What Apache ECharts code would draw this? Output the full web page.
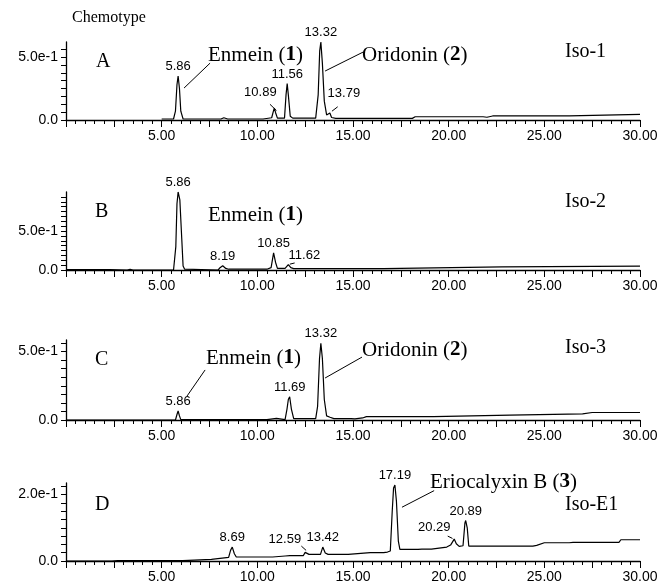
<!DOCTYPE html>
<html>
<head>
<meta charset="utf-8">
<title>Chemotype chromatograms</title>
<script src="https://cdn.jsdelivr.net/npm/echarts@6/dist/echarts.min.js"></script>
<style>
html, body { margin: 0; padding: 0; background: #fff; }
#chart { width: 663px; height: 584px; }
</style>
</head>
<body>
<div id="chart"></div>
<script>
// retention time (min), intensity
var traceA = [[5.0,0.008],[5.62,0.008],[5.72,0.07],[5.8,0.28],[5.86,0.35],[5.93,0.25],[6.0,0.07],[6.12,0.008],
  [8.1,0.008],[8.25,0.018],[8.45,0.008],[10.3,0.008],[10.35,0.018],[10.75,0.018],[10.84,0.07],[10.89,0.095],
  [10.95,0.06],[11.05,0.015],[11.42,0.015],[11.5,0.2],[11.56,0.29],[11.62,0.2],[11.72,0.03],[11.85,0.015],
  [13.05,0.015],[13.18,0.2],[13.26,0.55],[13.32,0.62],[13.4,0.45],[13.5,0.15],[13.62,0.04],[13.7,0.03],
  [13.79,0.055],[13.88,0.02],[14.1,0.013],[16.8,0.013],[16.9,0.02],[17.05,0.013],[18.1,0.013],[18.25,0.026],
  [21.8,0.026],[21.9,0.036],[22.0,0.022],[22.3,0.032],[26.3,0.032],[26.4,0.045],[30,0.045]];
var traceB = [[0,0.004],[2.3,0.004],[2.35,0],[3.2,0],[3.35,0.01],[3.5,0],[5.62,0],[5.68,0.02],[5.74,0.3],
  [5.8,0.85],[5.86,1.0],[5.95,0.9],[6.05,0.4],[6.12,0.05],[6.2,0.01],[6.3,0],[7.95,0],[8.05,0.03],[8.19,0.055],
  [8.35,0.02],[8.5,0.01],[10.5,0.01],[10.6,0.03],[10.72,0.03],[10.85,0.22],[10.95,0.1],[11.05,0.02],
  [11.45,0.02],[11.62,0.07],[11.75,0.03],[11.9,0.018],[16.6,0.018],[16.7,0.04],[22.8,0.04],[22.85,0.05],[30,0.05]];
var traceC = [[0,0],[3.2,0],[3.3,0.01],[3.4,0],[5.72,0],[5.8,0.04],[5.86,0.066],[5.93,0.03],[6.0,0.003],
  [10.5,0.003],[10.6,0.012],[11.0,0.012],[11.05,0.003],[11.45,0.003],[11.55,0.08],[11.62,0.15],[11.69,0.17],
  [11.78,0.08],[11.9,0.01],[13.05,0.01],[13.15,0.1],[13.25,0.45],[13.32,0.56],[13.4,0.45],[13.5,0.15],
  [13.62,0.03],[13.8,0.02],[14.0,0.01],[14.9,0.01],[15.0,0.02],[15.1,0.008],[15.5,0.015],[15.7,0.025],
  [19.2,0.025],[19.3,0.035],[23.2,0.035],[23.3,0.045],[27.0,0.045],[27.1,0.055],[27.5,0.055],[27.55,0.045],
  [27.7,0.055],[30,0.055]];
var traceD = [[0,0],[2.4,0],[2.5,0.004],[2.7,0.001],[3.6,0.001],[6.1,0.001],[6.2,0.005],[7.6,0.005],
  [7.7,0.011],[8.5,0.011],[8.6,0.032],[8.69,0.042],[8.8,0.022],[8.9,0.012],[10.2,0.012],[10.3,0.016],
  [10.4,0.012],[10.8,0.012],[10.85,0.015],[11.45,0.015],[11.55,0.021],[11.7,0.016],[12.4,0.016],[12.5,0.026],
  [12.59,0.029],[12.7,0.02],[13.3,0.02],[13.42,0.042],[13.55,0.024],[13.7,0.02],[14.75,0.02],[14.85,0.025],
  [15.9,0.025],[16.0,0.029],[16.1,0.025],[16.6,0.025],[16.7,0.03],[16.8,0.027],[16.95,0.03],[17.05,0.15],
  [17.12,0.22],[17.19,0.229],[17.27,0.18],[17.37,0.06],[17.45,0.035],[18.4,0.035],[18.5,0.04],[18.6,0.036],
  [19.1,0.036],[19.2,0.042],[19.9,0.042],[20.1,0.048],[20.29,0.066],[20.4,0.052],[20.55,0.044],[20.75,0.046],
  [20.85,0.115],[20.89,0.122],[20.97,0.1],[21.05,0.045],[23.0,0.045],[23.1,0.049],[23.2,0.045],[24.4,0.045],
  [24.5,0.05],[24.6,0.047],[25.0,0.055],[26.3,0.055],[26.4,0.059],[26.5,0.056],[28.9,0.056],[29.0,0.064],[30,0.064]];

// peak labels: [time, apex intensity, text offset x, text offset y]
var peaksA = [[5.86,0.35,0,0],[10.89,0.095,-14,-6],[11.56,0.29,0,0],[13.32,0.62,0,0],[13.79,0.055,14,-10]];
var peaksB = [[5.86,1.0,0,0],[8.19,0.055,0,0],[10.85,0.22,0,0],[11.62,0.07,16,0]];
var peaksC = [[5.86,0.066,0,0],[11.69,0.17,0,0],[13.32,0.56,0,0]];
var peaksD = [[8.69,0.042,0,0],[12.59,0.029,-22,-2],[13.42,0.042,0,0],[17.19,0.229,0,0],[20.29,0.066,-20,-2],[20.89,0.122,0,0]];

// leader lines (time, intensity) -> (time, intensity)
var leadersA = [[7.53,0.452,6.17,0.254],[15.53,0.54,13.54,0.389],[10.66,0.125,11.0,0.075],[14.2,0.105,13.9,0.07]];
var leadersB = [[11.95,0.09,11.7,0.075]];
var leadersC = [[7.27,0.366,6.33,0.176],[15.47,0.46,13.54,0.307]];
var leadersD = [[19.24,0.212,17.56,0.162],[12.3,0.045,12.55,0.032],[19.95,0.075,20.2,0.068]];

var yMax = [0.62, 1.0, 0.585, 0.235];
var yLabelValue = [0.5, 0.5, 0.5, 0.2];
var yLabelText = ['5.0e-1', '5.0e-1', '5.0e-1', '2.0e-1'];
var yTickStep = [0.0625, 0.0625, 0.0625, 0.025];
var xTickStep = 2.5;

var traces = [traceA, traceB, traceC, traceD];
var peaks = [peaksA, peaksB, peaksC, peaksD];
var leaders = [leadersA, leadersB, leadersC, leadersD];
var gridTops = [42, 192, 340, 483];
var gridHeights = [78, 78, 80, 79.5];

var myChart = echarts.init(document.getElementById('chart'))
var serif = 'Liberation Serif'
var sans = 'Liberation Sans'

var grids = [], xAxes = [], yAxes = [], series = []
for (var i = 0; i < 4; i++) {
  grids.push({ left: 66, width: 574, top: gridTops[i], height: gridHeights[i] })
  xAxes.push({
    type: 'value', gridIndex: i, min: 0, max: 30, interval: xTickStep,
    splitLine: { show: false },
    axisLine: { lineStyle: { color: '#000', width: 1.3 } },
    axisTick: { length: 7, lineStyle: { color: '#000' } },
    minorTick: { show: true, splitNumber: 5, length: 4, lineStyle: { color: '#000' } },
    axisLabel: {
      color: '#000', fontFamily: sans, fontSize: 14, margin: 9,
      formatter: function (v) { return (v > 0 && v % 5 === 0) ? v.toFixed(2) : '' }
    }
  })
  yAxes.push({
    type: 'value', gridIndex: i, min: 0, max: yMax[i], interval: yTickStep[i],
    splitLine: { show: false },
    axisLine: { show: true, lineStyle: { color: '#000', width: 1.3 } },
    axisTick: { length: 5, lineStyle: { color: '#000' } },
    axisLabel: {
      color: '#000', fontFamily: sans, fontSize: 14, margin: 8, showMaxLabel: false,
      formatter: (function (k) {
        return function (v) {
          if (v === 0) return '0.0'
          if (Math.abs(v - yLabelValue[k]) < 1e-6) return yLabelText[k]
          return ''
        }
      })(i)
    }
  })
  var mp = peaks[i].map(function (p) {
    return { name: p[0].toFixed(2), coord: [p[0], p[1]], label: { offset: [p[2], p[3]] } }
  })
  var ml = leaders[i].map(function (l) {
    return [{ coord: [l[0], l[1]] }, { coord: [l[2], l[3]] }]
  })
  series.push({
    type: 'line', xAxisIndex: i, yAxisIndex: i, data: traces[i],
    symbol: 'none', animation: false,
    lineStyle: { color: '#000', width: 1.2 },
    markPoint: {
      symbol: 'circle', symbolSize: 0, animation: false,
      label: { show: true, position: 'top', distance: 3, color: '#000', fontFamily: sans, fontSize: 13, formatter: '{b}' },
      data: mp
    },
    markLine: {
      silent: true, symbol: ['none', 'none'], animation: false,
      lineStyle: { color: '#000', type: 'solid', width: 1 },
      label: { show: false },
      data: ml
    }
  })
}

function txt(x, y, text, size) {
  return {
    type: 'text', x: x, y: y,
    style: {
      text: text, fill: '#000', font: size + 'px ' + serif, verticalAlign: 'middle',
      rich: { b: { fontWeight: 'bold', fontSize: size, fontFamily: serif } }
    }
  }
}

var option = {
  backgroundColor: '#fff',
  animation: false,
  grid: grids,
  xAxis: xAxes,
  yAxis: yAxes,
  series: series,
  graphic: [
    txt(72, 18, 'Chemotype', 16),
    txt(96, 62, 'A', 20), txt(208, 55, 'Enmein ({b|1})', 21), txt(362, 55, 'Oridonin ({b|2})', 21), txt(565, 52, 'Iso-1', 20),
    txt(95, 212, 'B', 20), txt(208, 215, 'Enmein ({b|1})', 21), txt(565, 202, 'Iso-2', 20),
    txt(95, 360, 'C', 20), txt(206, 358, 'Enmein ({b|1})', 21), txt(362, 350, 'Oridonin ({b|2})', 21), txt(565, 348, 'Iso-3', 20),
    txt(95, 505, 'D', 20), txt(430, 482, 'Eriocalyxin B ({b|3})', 21), txt(565, 505, 'Iso-E1', 20)
  ]
}
myChart.setOption(option)
</script>
</body>
</html>
